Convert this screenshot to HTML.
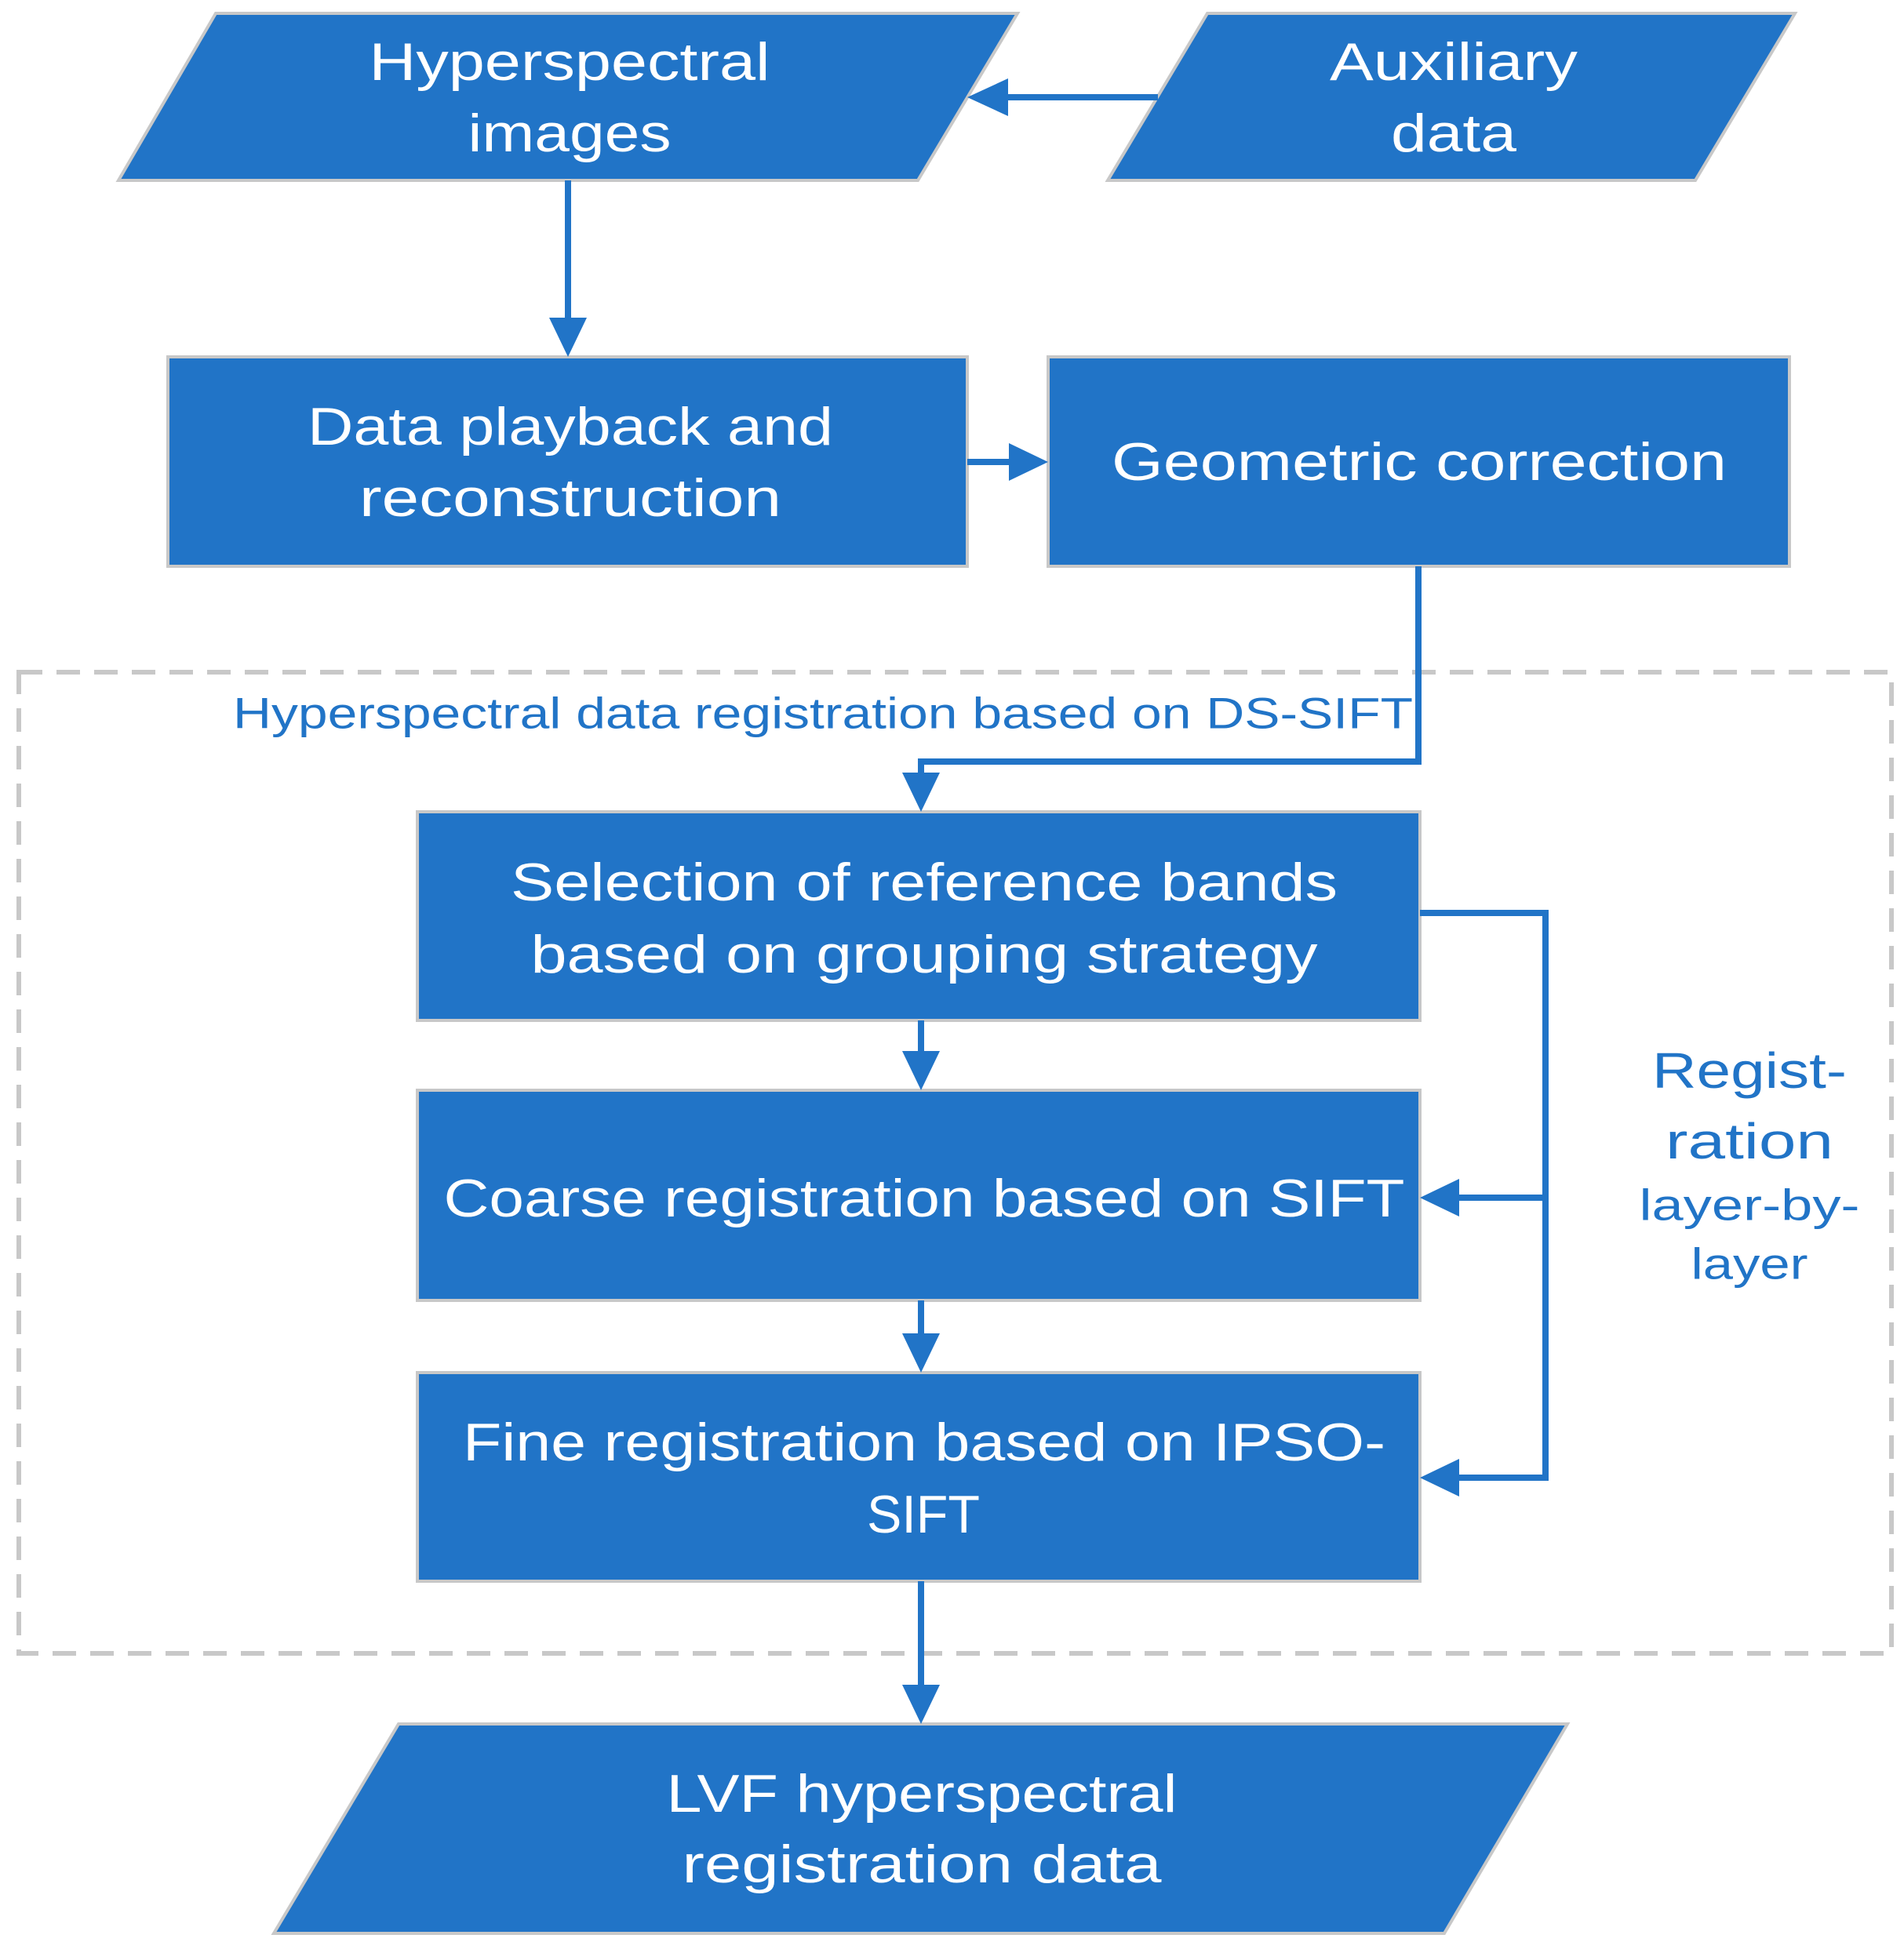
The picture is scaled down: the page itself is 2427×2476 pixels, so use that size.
<!DOCTYPE html>
<html><head><meta charset="utf-8"><style>html,body{margin:0;padding:0;background:#fff}svg{display:block}</style></head>
<body>
<svg width="2427" height="2476" viewBox="0 0 2427 2476" xmlns="http://www.w3.org/2000/svg">
<defs>
<marker id="a" markerWidth="10" markerHeight="10" refX="8" refY="5" orient="auto" markerUnits="userSpaceOnUse" viewBox="0 0 10 10">
</marker>
</defs>
<g fill="#2174C7" stroke="#C8C8C8" stroke-width="4">
<polygon points="275,17 1297,17 1170,230 151,230"/>
<polygon points="1539,17 2288,17 2161,230 1412,230"/>
<rect x="214" y="455" width="1019" height="267"/>
<rect x="1336" y="455" width="945" height="267"/>
<rect x="532" y="1035" width="1278" height="266"/>
<rect x="532" y="1390" width="1278" height="268"/>
<rect x="532" y="1750" width="1278" height="266"/>
<polygon points="508,2198 1998,2198 1841,2465 349,2465"/>
</g>
<rect x="24" y="857" width="2387" height="1251" fill="none" stroke="#C8C8C8" stroke-width="6" stroke-dasharray="30 18"/>
<g stroke="#2174C7" stroke-width="8" fill="none">
<line x1="1476" y1="124" x2="1270" y2="124"/>
<line x1="724" y1="230" x2="724" y2="420"/>
<line x1="1233" y1="589" x2="1300" y2="589"/>
<polyline points="1808,722 1808,971 1174,971 1174,1000"/>
<line x1="1174" y1="1301" x2="1174" y2="1355"/>
<line x1="1174" y1="1658" x2="1174" y2="1715"/>
<polyline points="1810,1164 1970,1164 1970,1884 1845,1884"/>
<line x1="1970" y1="1527" x2="1845" y2="1527"/>
<line x1="1174" y1="2016" x2="1174" y2="2160"/>
</g>
<g fill="#2174C7">
<polygon points="1233,124 1285,100 1285,148"/>
<polygon points="724,455 700,405 748,405"/>
<polygon points="1336,589 1286,565 1286,613"/>
<polygon points="1174,1035 1150,985 1198,985"/>
<polygon points="1174,1390 1150,1340 1198,1340"/>
<polygon points="1174,1750 1150,1700 1198,1700"/>
<polygon points="1810,1527 1860,1503 1860,1551"/>
<polygon points="1810,1884 1860,1860 1860,1908"/>
<polygon points="1174,2198 1150,2148 1198,2148"/>
</g>
<g font-family="Liberation Sans, sans-serif" fill="#fff" text-anchor="middle" dominant-baseline="central" font-size="68" lengthAdjust="spacingAndGlyphs">
<text x="726" y="79" textLength="511" lengthAdjust="spacingAndGlyphs">Hyperspectral</text>
<text x="726" y="170" textLength="259" lengthAdjust="spacingAndGlyphs">images</text>
<text x="1853" y="79" textLength="316" lengthAdjust="spacingAndGlyphs">Auxiliary</text>
<text x="1853" y="170" textLength="160" lengthAdjust="spacingAndGlyphs">data</text>
<text x="727" y="544" textLength="670" lengthAdjust="spacingAndGlyphs">Data playback and</text>
<text x="727" y="635" textLength="538" lengthAdjust="spacingAndGlyphs">reconstruction</text>
<text x="1809" y="589" textLength="784" lengthAdjust="spacingAndGlyphs">Geometric correction</text>
<text x="1178" y="1125" textLength="1054" lengthAdjust="spacingAndGlyphs">Selection of reference bands</text>
<text x="1178" y="1217" textLength="1003" lengthAdjust="spacingAndGlyphs">based on grouping strategy</text>
<text x="1178" y="1528" textLength="1225" lengthAdjust="spacingAndGlyphs">Coarse registration based on SIFT</text>
<text x="1178" y="1839" textLength="1176" lengthAdjust="spacingAndGlyphs">Fine registration based on IPSO-</text>
<text x="1177" y="1931" textLength="144" lengthAdjust="spacingAndGlyphs">SIFT</text>
<text x="1175" y="2287" textLength="651" lengthAdjust="spacingAndGlyphs">LVF hyperspectral</text>
<text x="1175" y="2377" textLength="611" lengthAdjust="spacingAndGlyphs">registration data</text>
</g>
<g font-family="Liberation Sans, sans-serif" fill="#2174C7" text-anchor="middle" dominant-baseline="central">
<text x="1049" y="909" font-size="56" textLength="1504" lengthAdjust="spacingAndGlyphs">Hyperspectral data registration based on DS-SIFT</text>
<text x="2230" y="1365" font-size="64" textLength="248" lengthAdjust="spacingAndGlyphs">Regist-</text>
<text x="2230" y="1455" font-size="64" textLength="214" lengthAdjust="spacingAndGlyphs">ration</text>
<text x="2230" y="1536" font-size="56" textLength="281" lengthAdjust="spacingAndGlyphs">layer-by-</text>
<text x="2230" y="1611" font-size="56" textLength="149" lengthAdjust="spacingAndGlyphs">layer</text>
</g>
</svg>
</body></html>
